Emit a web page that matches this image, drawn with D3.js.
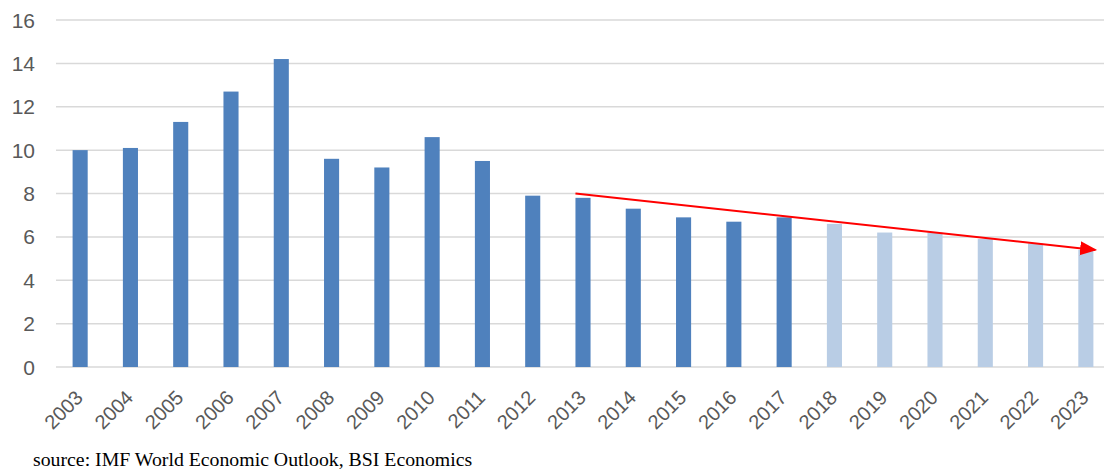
<!DOCTYPE html>
<html>
<head>
<meta charset="utf-8">
<script src="https://cdn.jsdelivr.net/npm/d3@7"></script>
<style>
  body { margin: 0; background: #fff; }
  svg { display: block; }
</style>
</head>
<body>
<svg id="chart" width="1104" height="470"></svg>
<script>
// data
const years = ["2003", "2004", "2005", "2006", "2007", "2008", "2009", "2010", "2011", "2012",
  "2013", "2014", "2015", "2016", "2017", "2018", "2019", "2020", "2021", "2022", "2023"];
const values = [10.0, 10.1, 11.3, 12.7, 14.2, 9.6, 9.2, 10.6, 9.5, 7.9,
  7.8, 7.3, 6.9, 6.7, 6.9, 6.6, 6.2, 6.2, 5.9, 5.7, 5.4];
const forecastFrom = "2018";
const yTicks = [0, 2, 4, 6, 8, 10, 12, 14, 16];
const trendStart = { year: "2013", value: 8.0 };
const trendEnd = { year: "2023", value: 5.4 };
const sourceText = "source: IMF World Economic Outlook, BSI Economics";

const width = 1104, height = 470;
const svg = d3.select("#chart");

const x = d3.scaleBand().domain(years).range([55, 1111]).paddingInner(0.7).paddingOuter(0.35);
const y = d3.scaleLinear().domain([0, 16]).range([367, 20]);

// gridlines
svg.append("g")
  .selectAll("line")
  .data(yTicks)
  .join("line")
  .attr("x1", 56)
  .attr("x2", width)
  .attr("y1", (d) => y(d))
  .attr("y2", (d) => y(d))
  .attr("stroke", "#d9d9d9")
  .attr("stroke-width", 1.5);

// y tick labels
svg.append("g")
  .selectAll("text")
  .data(yTicks)
  .join("text")
  .attr("x", 35)
  .attr("y", (d) => y(d))
  .attr("dy", "0.36em")
  .attr("text-anchor", "end")
  .attr("font-family", "Liberation Sans, Arial, sans-serif")
  .attr("font-size", 21)
  .attr("fill", "#595959")
  .text((d) => d);

// bars
const forecastIdx = years.indexOf(forecastFrom);
svg.append("g")
  .selectAll("rect")
  .data(values)
  .join("rect")
  .attr("x", (d, i) => x(years[i]))
  .attr("width", x.bandwidth())
  .attr("y", (d) => y(d))
  .attr("height", (d) => y(0) - y(d))
  .attr("fill", (d, i) => (i >= forecastIdx ? "#b9cde5" : "#4f81bd"));

// x labels
svg.append("g")
  .selectAll("text")
  .data(years)
  .join("text")
  .attr("transform", (d) => `translate(${x(d) + x.bandwidth() / 2 + 4},${y(0) + 32}) rotate(-45)`)
  .attr("text-anchor", "end")
  .attr("font-family", "Liberation Sans, Arial, sans-serif")
  .attr("font-size", 20)
  .attr("fill", "#595959")
  .text((d) => d);

// trend arrow
svg.append("defs")
  .append("marker")
  .attr("id", "arrow")
  .attr("viewBox", "0 0 10 10")
  .attr("refX", 9)
  .attr("refY", 5)
  .attr("markerWidth", 8.5)
  .attr("markerHeight", 8.5)
  .attr("orient", "auto")
  .append("path")
  .attr("d", "M0,0.8L10,5L0,9.2z")
  .attr("fill", "#ff0000");

svg.append("line")
  .attr("x1", x(trendStart.year))
  .attr("y1", y(trendStart.value))
  .attr("x2", x(trendEnd.year) + x.bandwidth() + 2)
  .attr("y2", y(trendEnd.value))
  .attr("stroke", "#ff0000")
  .attr("stroke-width", 2)
  .attr("marker-end", "url(#arrow)");

// source
svg.append("text")
  .attr("x", 33)
  .attr("y", 466)
  .attr("font-family", "Liberation Serif, Times New Roman, serif")
  .attr("font-size", 19.8)
  .attr("fill", "#000")
  .text(sourceText);
</script>
</body>
</html>
